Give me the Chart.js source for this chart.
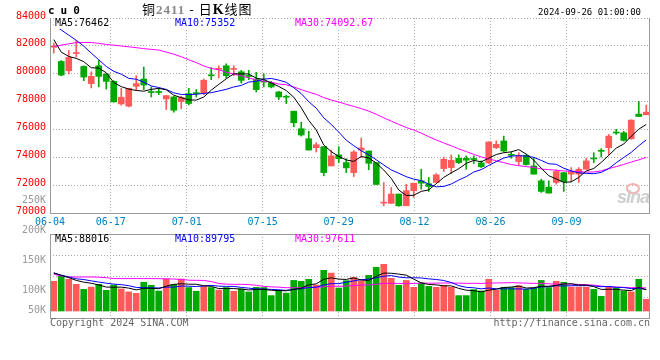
<!DOCTYPE html>
<html><head><meta charset="utf-8">
<script src="https://cdn.jsdelivr.net/npm/chart.js@4.4.1/dist/chart.umd.min.js"></script>
<style>
html,body{margin:0;padding:0;background:#fff;}
#wrap{position:relative;width:660px;height:360px;overflow:hidden;background:#fff;}
canvas{position:absolute;left:0;}
#cMain{top:0;}
#cVol{top:190px;}
.t{position:absolute;white-space:nowrap;font-family:"DejaVu Sans Mono",monospace;font-size:10px;line-height:12px;z-index:5;}
.lab{background:#fff;line-height:8px;padding:0 1px 2px 1px;}
#logo{position:absolute;left:626px;top:183px;width:10px;height:7px;border:2px solid #f4b4b4;border-radius:50%;z-index:1;}
</style></head><body>
<div id="wrap">
<canvas id="cMain" width="660" height="232"></canvas>
<canvas id="cVol" width="660" height="170"></canvas>

<div class="t" style="left:48px;top:5px;font-weight:bold;font-size:11px;letter-spacing:6px;">cu0</div>
<div class="t" style="left:142px;top:0px;font-family:'Noto Sans CJK SC';font-size:13px;line-height:17px;letter-spacing:1px;">铜<span style="color:#888;font-family:'Liberation Serif';font-weight:bold;font-size:13px;">2411</span> - 日<b style="font-family:'Liberation Serif';font-size:14px;">K</b>线图</div>
<div class="t" style="right:19px;top:6px;font-size:9px;">2024-09-26 01:00:00</div>

<div class="t lab" style="left:54px;top:19px;color:#000;">MA5:76462</div>
<div class="t lab" style="left:174px;top:19px;color:#0000ff;">MA10:75352</div>
<div class="t lab" style="left:294px;top:19px;color:#ff00ff;">MA30:74092.67</div>

<div class="t lab" style="left:54px;top:235px;color:#000;">MA5:88016</div>
<div class="t lab" style="left:174px;top:235px;color:#0000ff;">MA10:89795</div>
<div class="t lab" style="left:294px;top:235px;color:#ff00ff;">MA30:97611</div>

<div id="logo"></div>
<div class="t" style="left:617px;top:186px;font-family:'Liberation Sans';font-weight:bold;font-style:italic;font-size:18px;line-height:22px;color:#cfcfcf;letter-spacing:-1px;z-index:1;">sina</div>

<div class="t" style="left:50px;top:317px;color:#666;">Copyright 2024 SINA.COM</div>
<div class="t" style="right:10px;top:317px;color:#666;">http://finance.sina.com.cn</div>
</div>
<script>
const dateLabels = ['06-04','06-05','06-06','06-07','06-11','06-12','06-13','06-14','06-17','06-18','06-19','06-20','06-21','06-24','06-25','06-26','06-27','06-28',
'07-01','07-02','07-03','07-04','07-05','07-08','07-09','07-10','07-11','07-12','07-15','07-16','07-17','07-18','07-19','07-22','07-23','07-24','07-25','07-26','07-29','07-30','07-31',
'08-01','08-02','08-05','08-06','08-07','08-08','08-09','08-12','08-13','08-14','08-15','08-16','08-19','08-20','08-21','08-22','08-23','08-26','08-27','08-28','08-29','08-30',
'09-02','09-03','09-04','09-05','09-06','09-09','09-10','09-11','09-12','09-13','09-18','09-19','09-20','09-23','09-24','09-25','09-26'];
const tickIndexes = [0,8,18,28,38,48,58,68];

const opens = [81900,80880,80210,81450,80520,79290,80570,79980,79450,77830,
 77670,79100,79620,78700,78700,78190,78330,78000,78570,78620,
 78620,79880,80310,80570,80310,80140,79830,79620,79450,79330,
 78690,78360,77310,76050,75330,74690,74760,73380,74170,73620,
 72900,74520,74450,73620,70710,70690,71360,70520,71600,72310,
 72100,72190,73190,73260,73930,73930,73880,73600,73600,74690,
 75170,74170,73690,74140,73380,72310,71860,72190,72900,72790,
 72790,73140,73920,74470,74690,75790,75760,75330,77100,77050];
const highs = [82200,80950,81670,82380,80570,80140,80950,80000,79500,78950,
 78950,79860,80480,79050,78950,78450,78380,78380,78950,78860,
 79620,80430,80570,80710,80570,80240,80240,80100,80000,79450,
 78740,78450,77310,76520,75860,75050,74760,74520,74760,73900,
 74480,75380,74450,73620,72190,71830,71360,72070,72140,73140,
 72550,72830,74020,74170,74170,74100,74100,73740,75120,75170,
 75520,74380,74330,74210,73930,72430,72310,73100,72900,73260,
 73260,73930,74330,74620,75640,76000,75860,76690,78020,77740];
const lows = [81480,79850,79980,81190,79500,78980,79050,78900,77950,77740,
 77620,78810,78860,78330,78500,77430,77240,77480,77760,78330,
 78500,79570,79700,79690,79860,79330,79570,78690,79050,78980,
 78140,77860,76190,75520,74520,74380,72670,73380,73620,72900,
 72620,73980,73100,72050,70520,70690,70480,70520,71120,71710,
 71550,72190,72980,72830,73550,73140,73550,73260,73550,74620,
 74380,73930,73430,73430,72790,71480,71430,72070,71550,72240,
 72190,73140,73620,74020,74170,75640,75170,75290,76930,77050];
const closes = [82000,79900,81170,81500,79760,79810,79810,79450,77980,78310,
 78950,79290,79190,78650,78650,78430,77380,78290,77860,78570,
 79530,79850,80360,79860,80360,79520,79800,78860,79400,79050,
 78330,78310,76480,75600,74520,74900,72900,74100,73900,73240,
 74380,74670,73570,72050,70760,71360,70520,71600,72140,72140,
 71900,72740,73860,73790,73620,73790,73840,73330,75100,74930,
 74450,74140,74140,73480,72790,71550,71430,72980,72240,72980,
 73140,73740,73880,74430,75520,75740,75210,76670,76930,77240];

const ma5 = [82450,81550,81240,81100,80866,80428,80410,80066,79362,79072,
 78900,78796,78744,78878,78946,78842,78460,78280,78122,78106,
 78326,78820,79234,79634,79992,79990,79980,79680,79588,79326,
 79088,78790,78314,77554,76648,75962,74880,74404,74064,73808,
 73704,74058,73952,73582,73086,72482,71652,71258,71276,71552,
 71660,72104,72556,72886,73182,73560,73780,73674,73936,74198,
 74330,74390,74552,74228,73800,73220,72678,72446,72198,72236,
 72554,73016,73196,73634,74142,74662,74956,75514,76014,76358];
const ma10 = [83510,83140,82770,82400,81980,81480,81000,80520,80170,79969,
 79664,79603,79405,79120,79009,78871,78628,78512,78500,78526,
 78584,78640,78757,78878,79049,79158,79400,79457,79611,79659,
 79539,79385,78997,78571,77987,77525,76835,76359,75809,75228,
 74833,74469,74178,73823,73447,73093,72855,72605,72429,72319,
 72071,71878,71907,72081,72367,72610,72942,73115,73411,73690,
 73945,74085,74113,74082,73999,73775,73534,73499,73213,73018,
 72887,72847,72821,72916,73189,73608,73986,74355,74824,75250];
const ma30 = [81950,82050,82150,82230,82240,82240,82180,82100,82050,81990,
 81930,81870,81800,81750,81700,81550,81400,81220,81000,80800,
 80560,80380,80290,80100,79980,79850,79700,79550,79460,79385,
 79262,79209,79053,78856,78682,78518,78288,78109,77973,77804,
 77652,77498,77311,77091,76828,76592,76363,76140,75950,75735,
 75481,75244,75027,74825,74600,74409,74211,74026,73883,73746,
 73616,73477,73399,73329,73271,73159,73110,73073,73018,73009,
 72968,72937,72947,73026,73185,73331,73487,73656,73816,73986];

const volumes = [129000,151000,138000,116000,94000,104000,116000,90000,113000,96000,
 83000,77000,125000,112000,87000,139000,116000,139000,102000,86000,
 107000,102000,91000,102000,86000,96000,83000,103000,102000,67000,
 90000,78000,133000,129000,138000,113000,177000,165000,100000,132000,
 146000,131000,155000,190000,203000,142000,112000,133000,103000,122000,
 107000,103000,112000,103000,67000,67000,93000,87000,138000,90000,
 103000,102000,110000,94000,99000,133000,102000,129000,125000,104000,
 104000,104000,94000,64000,107000,102000,87000,83000,138000,51000];
const vma5 = [165000,155000,145000,133000,125600,120600,113600,104000,103400,103800,
 99600,91800,98800,98600,96800,108000,115800,118600,116600,116400,
 110000,107200,97600,97600,97600,95400,91600,94000,94000,90200,
 89000,88000,94000,99400,113600,118200,138000,144400,138600,137400,
 144000,134800,132800,150800,165000,164200,160400,156000,138600,122400,
 115400,113600,109400,109400,98400,90400,88400,83400,90400,95000,
 102200,104000,108600,99800,101600,107600,107600,111400,117600,118600,
 112800,113200,106200,94000,94600,94200,90800,88600,103400,92200];
const vma10 = [166000,156000,148000,140000,137000,131000,126000,121000,117000,114700,
 110100,102700,101400,101000,100300,103800,103800,108700,107600,106600,
 109000,111500,108100,107100,107000,102700,99400,95800,95800,93900,
 92200,89800,94000,96700,101900,103600,113000,119200,119000,125500,
 131100,136400,138600,144700,151200,154100,147600,144400,144700,143700,
 139800,137000,132700,124000,110400,102900,101000,96400,99900,96700,
 96300,96200,96000,95100,98300,104900,105800,110000,108700,110100,
 110200,110400,108800,105800,106600,103500,102000,97400,98700,93400];
const vma30 = [160000,152000,148000,148000,148000,148000,147000,145000,141000,141000,
 141000,141000,141000,141000,140500,140000,139000,137000,134000,133500,
 133000,128000,120000,117000,116000,116000,115000,112000,107000,105067,
 103767,101333,101167,101600,103067,103367,105400,107900,107467,108667,
 110767,112567,113567,116167,120033,120133,120000,119800,119833,121033,
 121033,121067,121767,121800,121167,120200,120533,120000,121200,121967,
 122400,123200,122433,121267,119967,120633,118133,116933,117767,116833,
 115433,114533,112500,108300,105100,103767,102933,101267,102433,100067];

const volTickValues = [250000,200000,150000,100000,50000];
const volTickLabels = ['250K','200K','150K','100K','50K'];

const UP = '#ff5a5a', DOWN = '#00a800';
const GRID = '#aaaaaa', FRAME = '#999999', CLEAR = 'rgba(0,0,0,0)';
const candleColors = closes.map((c,i)=> c >= opens[i] ? UP : DOWN);

Chart.defaults.font.family = "'DejaVu Sans Mono', monospace";
Chart.defaults.font.size = 10;
Chart.defaults.animation = false;

const framePlugin = {
  id: 'frame',
  afterDatasetsDraw(chart, args, opts) {
    const a = chart.chartArea, ctx = chart.ctx;
    ctx.save();
    ctx.strokeStyle = FRAME; ctx.lineWidth = 1; ctx.setLineDash([]);
    ctx.beginPath();
    ctx.moveTo(a.left + 0.5, a.top); ctx.lineTo(a.left + 0.5, a.bottom + 1);
    ctx.moveTo(a.right - 0.5, a.top); ctx.lineTo(a.right - 0.5, a.bottom + 1);
    ctx.moveTo(a.left, a.bottom + 0.5); ctx.lineTo(a.right, a.bottom + 0.5);
    if (opts.top) { ctx.moveTo(a.left, a.top + 0.5); ctx.lineTo(a.right, a.top + 0.5); }
    ctx.stroke();
    ctx.restore();
  }
};

const volLabelPlugin = {
  id: 'volLabels',
  afterDraw(chart) {
    const yl = chart.scales.yl, y = chart.scales.y, ctx = chart.ctx;
    const floor = y.getPixelForValue(0) - 1;
    ctx.save();
    ctx.font = "10px 'DejaVu Sans Mono'";
    ctx.fillStyle = '#999999';
    ctx.textAlign = 'right';
    ctx.textBaseline = 'middle';
    volTickValues.forEach((v, i) => {
      const py = Math.min(yl.getPixelForValue(v), floor);
      ctx.fillText(volTickLabels[i], chart.chartArea.left - 4, py);
    });
    ctx.restore();
  }
};

function lineDs(data, color, yAxisID) {
  return { type: 'line', data, borderColor: color, borderWidth: 1, pointRadius: 0,
    tension: 0, fill: false, order: 0, yAxisID, xAxisID: 'x' };
}

function dateAxis(showLabels, h) {
  return {
    type: 'linear', position: 'bottom', min: 0, max: dateLabels.length - 1,
    offset: false,
    afterBuildTicks(s) { s.ticks = tickIndexes.map(v => ({ value: v })); },
    afterFit(s) { s.height = h; },
    ticks: { display: showLabels, color: '#0080c0', padding: 3, autoSkip: false, maxRotation: 0,
      callback: v => dateLabels[v] },
    grid: { offset: false, drawTicks: false, color: c => (c.tick && c.tick.value === 0) ? CLEAR : GRID },
    border: { display: false, dash: [1, 2] }
  };
}

new Chart(document.getElementById('cMain'), {
  type: 'bar',
  data: {
    labels: dateLabels,
    datasets: [
      lineDs(ma5, '#000000', 'y'),
      lineDs(ma10, '#0000ff', 'y'),
      lineDs(ma30, '#ff00ff', 'y'),
      { type: 'bar', data: opens.map((o, i) => [o, closes[i]]), backgroundColor: candleColors,
        barThickness: 6, minBarLength: 1, grouped: false, borderWidth: 0, order: 2, xAxisID: 'x', yAxisID: 'y' },
      { type: 'bar', data: lows.map((l, i) => [l, highs[i]]), backgroundColor: candleColors,
        barThickness: 1, grouped: false, borderWidth: 0, order: 3, xAxisID: 'x', yAxisID: 'y' }
    ]
  },
  options: {
    responsive: false, devicePixelRatio: 1, animation: false,
    layout: { padding: { top: 18, right: 10, bottom: 0, left: 0 } },
    plugins: { legend: { display: false }, tooltip: { enabled: false }, frame: { top: false } },
    events: [],
    scales: {
      x: { type: 'category', display: false, offset: true },
      x2: dateAxis(true, 19),
      y: { type: 'linear', position: 'left', min: 70000, max: 84000,
        afterFit(s) { s.width = 50; },
        ticks: { stepSize: 2000, color: '#ff0000', padding: 4, labelOffset: -2, callback: v => String(v) },
        grid: { drawTicks: false, color: c => (c.tick && c.tick.value === 70000) ? CLEAR : GRID },
        border: { display: false, dash: [1, 2] } }
    }
  },
  plugins: [framePlugin]
});

new Chart(document.getElementById('cVol'), {
  type: 'bar',
  data: {
    labels: dateLabels,
    datasets: [
      lineDs(vma5, '#000000', 'y'),
      lineDs(vma10, '#0000ff', 'y'),
      lineDs(vma30, '#ff00ff', 'y'),
      { type: 'bar', data: volumes, backgroundColor: candleColors, barThickness: 6,
        grouped: false, borderWidth: 0, order: 2, xAxisID: 'x', yAxisID: 'y' }
    ]
  },
  options: {
    responsive: false, devicePixelRatio: 1, animation: false,
    layout: { padding: { top: 44, right: 10, bottom: 42, left: 0 } },
    plugins: { legend: { display: false }, tooltip: { enabled: false }, frame: { top: true } },
    events: [],
    scales: {
      x: { type: 'category', display: false, offset: true },
      x2: dateAxis(false, 0),
      y: { type: 'linear', display: false, min: -30450, max: 334950 },
      yl: { type: 'linear', display: false, min: 54500, max: 194500 },
      yg: { type: 'linear', position: 'left', min: 0, max: 4,
        afterFit(s) { s.width = 50; },
        ticks: { display: false, stepSize: 1 },
        grid: { drawTicks: false, color: c => (c.tick && c.tick.value > 0 && c.tick.value < 4) ? GRID : CLEAR },
        border: { display: false, dash: [1, 2] } }
    }
  },
  plugins: [framePlugin, volLabelPlugin]
});
</script>
</body></html>
